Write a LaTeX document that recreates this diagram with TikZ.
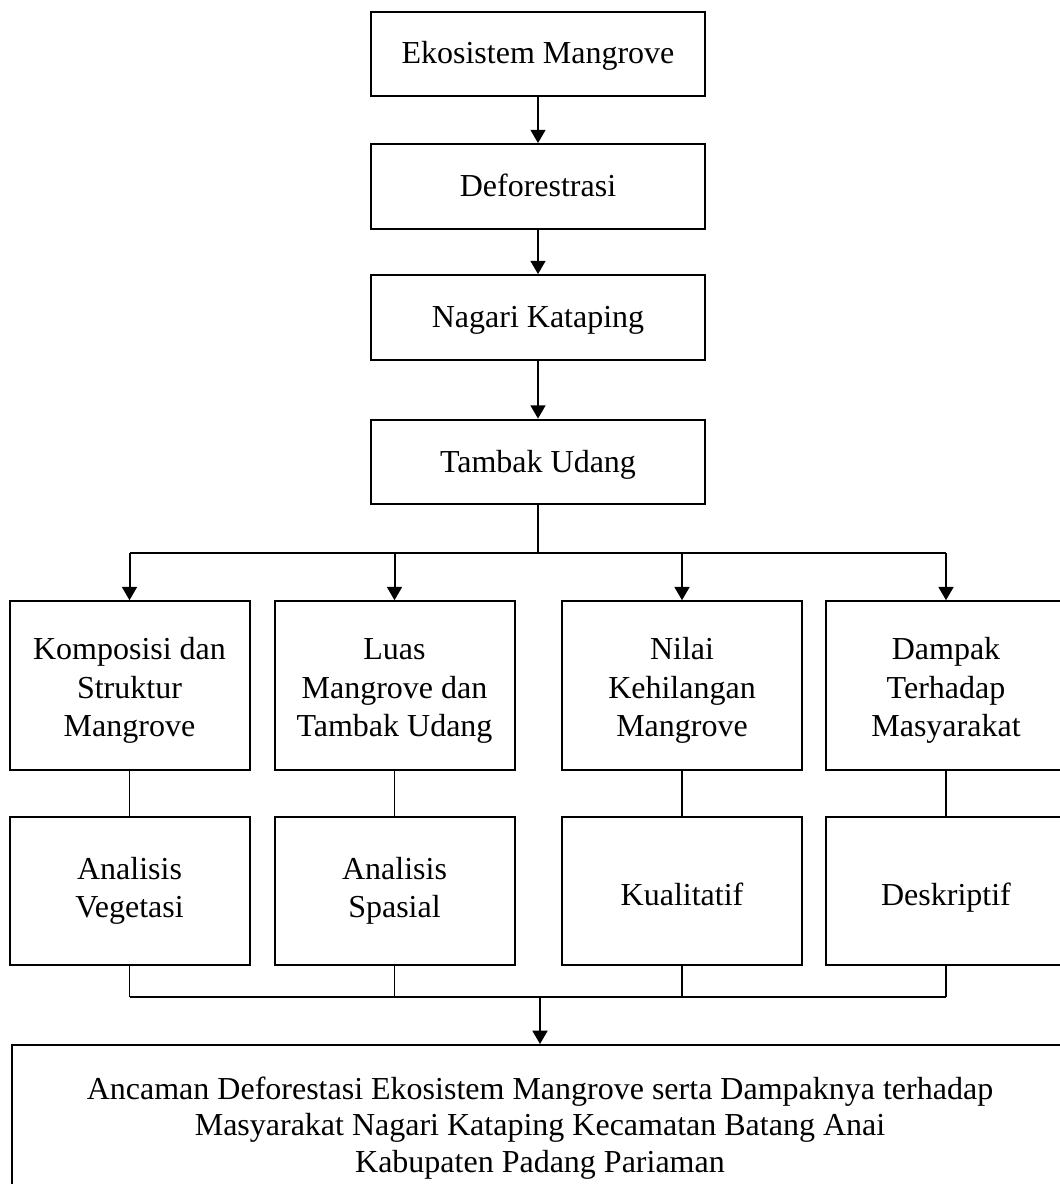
\documentclass[tikz,border=0pt]{standalone}
\usepackage{fontspec}
\setmainfont{Liberation Serif}
\usetikzlibrary{arrows.meta, positioning}
\tikzset{
  box/.style={draw, line width=0.75pt, align=center, inner sep=0pt,
              font=\fontsize{12}{13.8}\selectfont},
  topbox/.style={box, minimum width=125.25pt, minimum height=31.8pt,
                 execute at begin node={\rule{0pt}{10.5pt}},
                 execute at end node={\rule[-3pt]{0pt}{3pt}}},
  colbox/.style={box, minimum width=90pt, minimum height=63.2pt,
                 font=\fontsize{12}{14.5}\selectfont,
                 text height=41pt, text depth=2.6pt},
  methbox/.style={box, minimum width=90pt, minimum height=55.5pt,
                  font=\fontsize{12}{14.2}\selectfont,
                  execute at begin node={\rule{0pt}{13.5pt}},
                  execute at end node={\rule[-3pt]{0pt}{3pt}}},
  goalbox/.style={box, minimum width=396pt, minimum height=62.25pt},
  flow/.style={-{Triangle[length=5pt, width=5.6pt]}, line width=0.75pt},
  link/.style={line width=0.4pt},
  bus/.style={line width=0.5pt},
}

\begin{document}
\begin{tikzpicture}[x=0.375pt, y=-0.375pt]
  \useasboundingbox (0,0) rectangle (1060,1184);
  \clip (0,0) rectangle (1060,1184);
  % alur atas
  \node[topbox] (eko) at (538,54) {Ekosistem Mangrove};
  \node[topbox] (defo) at (538,186.5) {Deforestrasi};
  \node[topbox] (nagari) at (538,317.5) {Nagari Kataping};
  \node[topbox] (tambak) at (538,462) {Tambak Udang};
  \draw[flow] (eko) -- (defo);
  \draw[flow] (defo) -- (nagari);
  \draw[flow] (nagari) -- (tambak);
  % aspek dan metode
  \foreach \i/\x/\aspek/\metode in {
      1/129.5/{Komposisi dan\\Struktur\\Mangrove}/{Analisis\\Vegetasi},
      2/394.5/{Luas\\Mangrove dan\\Tambak Udang}/{Analisis\\Spasial},
      3/682/{Nilai\\Kehilangan\\Mangrove}/{Kualitatif},
      4/946/{Dampak\\Terhadap\\Masyarakat}/{Deskriptif}}{
    \node[colbox] (asp\i) at (\x,685.5) {\aspek};
    \node[methbox] (met\i) at (\x,891) {\metode};
    \draw[link] (asp\i) -- (met\i);
  }
  \coordinate (atas) at (538,553);
  \draw[link] (tambak) -- (atas);
  \draw[bus] (asp1 |- atas) -- (asp4 |- atas);
  \foreach \i in {1,...,4}
    \draw[flow] (asp\i |- atas) -- (asp\i);
  % hasil
  \node[goalbox] (hasil) at (540,1128) {Ancaman Deforestasi Ekosistem Mangrove serta Dampaknya terhadap\\
    Masyarakat Nagari Kataping Kecamatan Batang Anai\\
    Kabupaten Padang Pariaman};
  \coordinate (bawah) at (540,997);
  \foreach \i in {1,...,4}
    \draw[link] (met\i) -- (met\i |- bawah);
  \draw[bus] (met1 |- bawah) -- (met4 |- bawah);
  \draw[flow] (bawah) -- (hasil);
\end{tikzpicture}
\end{document}
